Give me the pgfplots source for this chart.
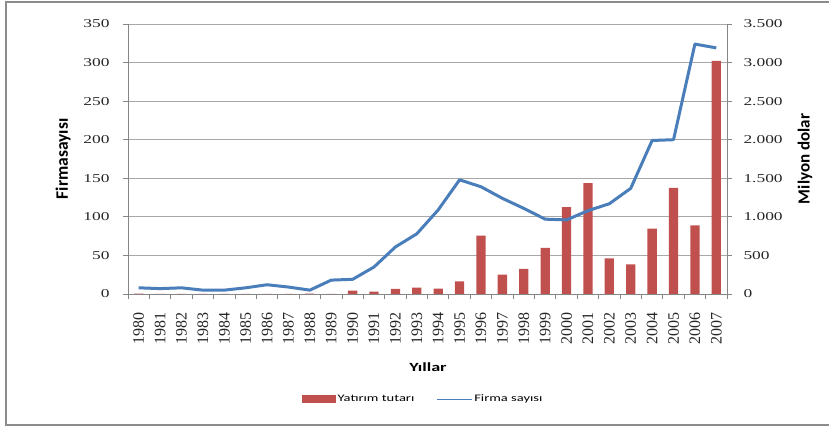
\documentclass[border=0pt]{standalone}
\usepackage{fontspec}
\setmainfont{Carlito}
\newfontfamily\tickfont[FakeStretch=1.45]{Liberation Serif}
\newfontfamily\xtfont{Liberation Serif}
\newfontfamily\legfont[FakeStretch=1.45]{Carlito}
\usepackage{pgfplots}
\usepackage{pgfplotstable}
\pgfplotsset{compat=1.18}
\definecolor{barred}{HTML}{C0504D}
\definecolor{lineblue}{HTML}{4A7EBB}
\definecolor{gridgray}{HTML}{A8A8A8}
\definecolor{axgray}{HTML}{868686}
\definecolor{framegray}{HTML}{8C8C8C}

\pgfplotstableread{
x inv firms
0 5 8
1 0 7
2 0 8
3 0 5
4 0 5
5 0 8
6 0 12
7 0 9
8 5 5
9 0 18
10 43 19
11 30 35
12 65 61
13 83 78
14 70 109
15 165 148
16 758 139
17 251 124
18 325 111
19 598 97
20 1126 96
21 1438 108
22 463 117
23 385 137
24 849 199
25 1377 200
26 888 324
27 3023 319
}\data

\begin{document}
\begin{tikzpicture}[x=1pt,y=1pt]
\path[use as bounding box] (0,0) rectangle (829,427);
\draw[framegray, line width=1.5pt] (829,2) -- (6,2) -- (6,425) -- (829,425);

\begin{axis}[
  at={(128pt,133pt)}, anchor=south west,
  scale only axis, width=599pt, height=270pt,
  xmin=-0.5, xmax=27.5, ymin=0, ymax=3500,
  axis y line*=right, axis x line*=bottom,
  axis line style={axgray, line width=0.8pt},
  ymajorgrids, grid style={gridgray, line width=0.8pt},
  xtick={0,...,27},
  xticklabels={1980,1981,1982,1983,1984,1985,1986,1987,1988,1989,1990,1991,1992,1993,1994,1995,1996,1997,1998,1999,2000,2001,2002,2003,2004,2005,2006,2007},
  minor xtick={-0.5,0.5,...,27.5},
  major x tick style={draw=none},
  minor tick length=5pt, major tick length=5pt,
  tick align=outside,
  tick style={axgray, line width=0.8pt},
  xticklabel shift=10pt,
  xticklabel style={rotate=90, anchor=east, font=\xtfont\fontsize{16}{16}\selectfont, text=black!85},
  ytick={0,500,...,3500},
  yticklabels={0,500,1.000,1.500,2.000,2.500,3.000,3.500},
  yticklabel shift=8pt,
  yticklabel style={font=\tickfont\fontsize{12}{12}\selectfont, text=black!85},
  every axis y label/.style={at={(axis description cs:1.13,0.5)}, rotate=90, anchor=center},
  ylabel={\fontsize{17}{17}\selectfont\bfseries Milyon dolar},
  every axis x label/.style={at={(axis description cs:0.5008,-0.27)}, anchor=center},
  xlabel={\legfont\fontsize{12.5}{14}\selectfont\bfseries Yıllar},
]
\addplot[ybar, bar width=9.3pt, fill=barred, draw=none] table[x=x,y=inv]{\data};
\end{axis}

\begin{axis}[
  at={(128pt,133pt)}, anchor=south west,
  scale only axis, width=599pt, height=270pt,
  xmin=-0.5, xmax=27.5, ymin=0, ymax=350,
  axis y line*=left, axis x line=none,
  axis line style={axgray, line width=0.8pt},
  ytick={0,50,...,350},
  major tick length=5pt, tick align=outside,
  tick style={axgray, line width=0.8pt},
  yticklabel shift=10pt,
  yticklabel style={font=\tickfont\fontsize{12}{12}\selectfont, text=black!85},
  /pgf/number format/assume math mode=true,
  every axis y label/.style={at={(axis description cs:-0.1085,0.5)}, rotate=90, anchor=center},
  ylabel={\fontsize{17.5}{17.5}\selectfont\bfseries Firmasayısı},
  legend style={at={(axis description cs:0.493,-0.389)}, anchor=center, draw=none, fill=none,
    legend columns=2, font=\legfont\fontsize{10}{12}\selectfont,
    /tikz/every even column/.append style={column sep=20pt}},
]
\addlegendimage{legend image code/.code={\fill[barred] (0pt,-3.5pt) rectangle (33pt,3.5pt);}}
\addlegendentry{Yatırım tutarı}
\addplot[lineblue, line width=3pt, line join=round, mark=none,
  legend image code/.code={\draw[lineblue,line width=1pt] (0pt,0pt)--(35pt,0pt);}]
  table[x=x,y=firms]{\data};
\addlegendentry{Firma sayısı}
\end{axis}
\end{tikzpicture}
\end{document}
